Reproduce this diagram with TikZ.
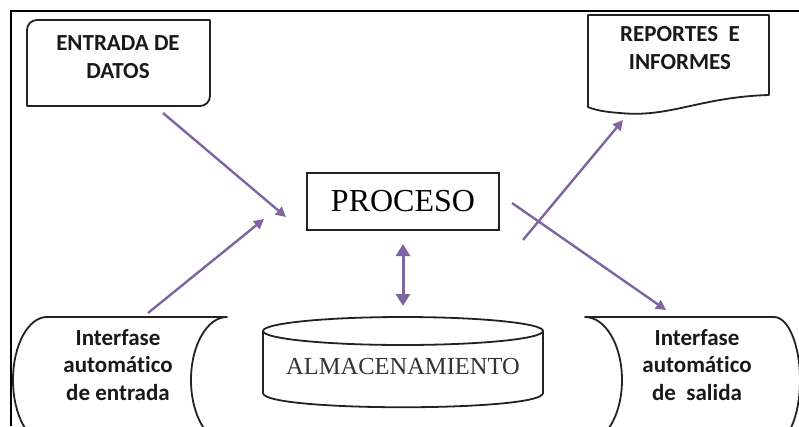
\documentclass[tikz,border=0pt]{standalone}
\usepackage{fontspec}
\newfontfamily\lblfont[Ligatures={NoCommon}]{Carlito}
\newfontfamily\serifbox{Liberation Serif}
\usetikzlibrary{arrows.meta}
\definecolor{arrowpurple}{HTML}{8064A2}
\definecolor{shapeline}{HTML}{222222}
\tikzset{
  shapeborder/.style={draw=shapeline, line width=1.8pt, line join=round},
  lbl/.style={font=\lblfont\bfseries\fontsize{23}{27.5}\selectfont, align=center, text=black!90},
  flow/.style={draw=arrowpurple, line width=2.4pt, -{Triangle[length=10pt,width=10pt]}},
  flowboth/.style={draw=arrowpurple, line width=3pt, {Triangle[length=12pt,width=14pt]}-{Triangle[length=12pt,width=14pt]}}
}
\begin{document}
\begin{tikzpicture}[x=1pt,y=-1pt]
\useasboundingbox (0,0) rectangle (799,426);
\clip (0,0) rectangle (799,426);
% frame
\draw[black, line width=2pt] (11,426) -- (11,11) -- (799,11);

% ENTRADA DE DATOS (rounded diagonal corners)
\draw[shapeborder] (27,106) -- (200,106) arc[start angle=90, end angle=0, radius=10]
  -- (210,20) -- (37,20) arc[start angle=-90, end angle=-180, radius=10] -- cycle;
\node[lbl] (entrada) at (118,57) {ENTRADA DE\\DATOS};

% REPORTES E INFORMES (document)
\draw[shapeborder] (588,15) -- (769,15) -- (769,95)
  .. controls (700,97) and (670,118) .. (620,113)
  .. controls (605,112) and (595,110) .. (588,107) -- cycle;
\node[lbl] (reportes) at (680,48) {REPORTES\ \ E\\INFORMES};

% PROCESO
\node[draw=shapeline, line width=1.8pt, minimum width=192pt, minimum height=57pt,
  inner sep=0pt, font=\serifbox\fontsize{32}{34}\selectfont] (proceso) at (403,201.5) {PROCESO};

% ALMACENAMIENTO (cylinder)
\draw[shapeborder] (263,331) -- (263,393)
  .. controls (263,412) and (543,412) .. (543,393) -- (543,331);
\draw[shapeborder] (403,331) ellipse[x radius=140, y radius=14];
\node[font=\serifbox\fontsize{24.5}{27}\selectfont, text=black!80] (almacen) at (403,366) {ALMACENAMIENTO};

% Interfase automatico de entrada (stored data)
\draw[shapeborder] (47,317) -- (227,317)
  arc[start angle=90, end angle=270, x radius=36, y radius=-63]
  -- (47,443)
  arc[start angle=270, end angle=90, x radius=34, y radius=-63] -- cycle;
\node[lbl] (ientrada) at (118,365) {Interfase\\automático\\de entrada};

% Interfase automatico de salida (stored data, mirrored)
\draw[shapeborder] (585,317) -- (774,317)
  arc[start angle=90, end angle=-90, x radius=26, y radius=-63]
  -- (585,443)
  arc[start angle=-90, end angle=90, x radius=37, y radius=-63] -- cycle;
\node[lbl] (isalida) at (697,365) {Interfase\\automático\\de\ \ salida};

% connector end points
\coordinate (a1s) at (163,113);
\coordinate (a1e) at (286,217);
\coordinate (a2s) at (148,313);
\coordinate (a2e) at (264,219);
\coordinate (a3s) at (512,203);
\coordinate (a3e) at (666,310);
\coordinate (a4s) at (523,240);
\coordinate (a4e) at (623,120);
\coordinate (a5s) at (403,244);
\coordinate (a5e) at (403,306);

\draw[flow] (a1s) -- (a1e);
\draw[flow] (a2s) -- (a2e);
\draw[flow] (a3s) -- (a3e);
\draw[flow] (a4s) -- (a4e);
\draw[flowboth] (a5s) -- (a5e);
\end{tikzpicture}
\end{document}
